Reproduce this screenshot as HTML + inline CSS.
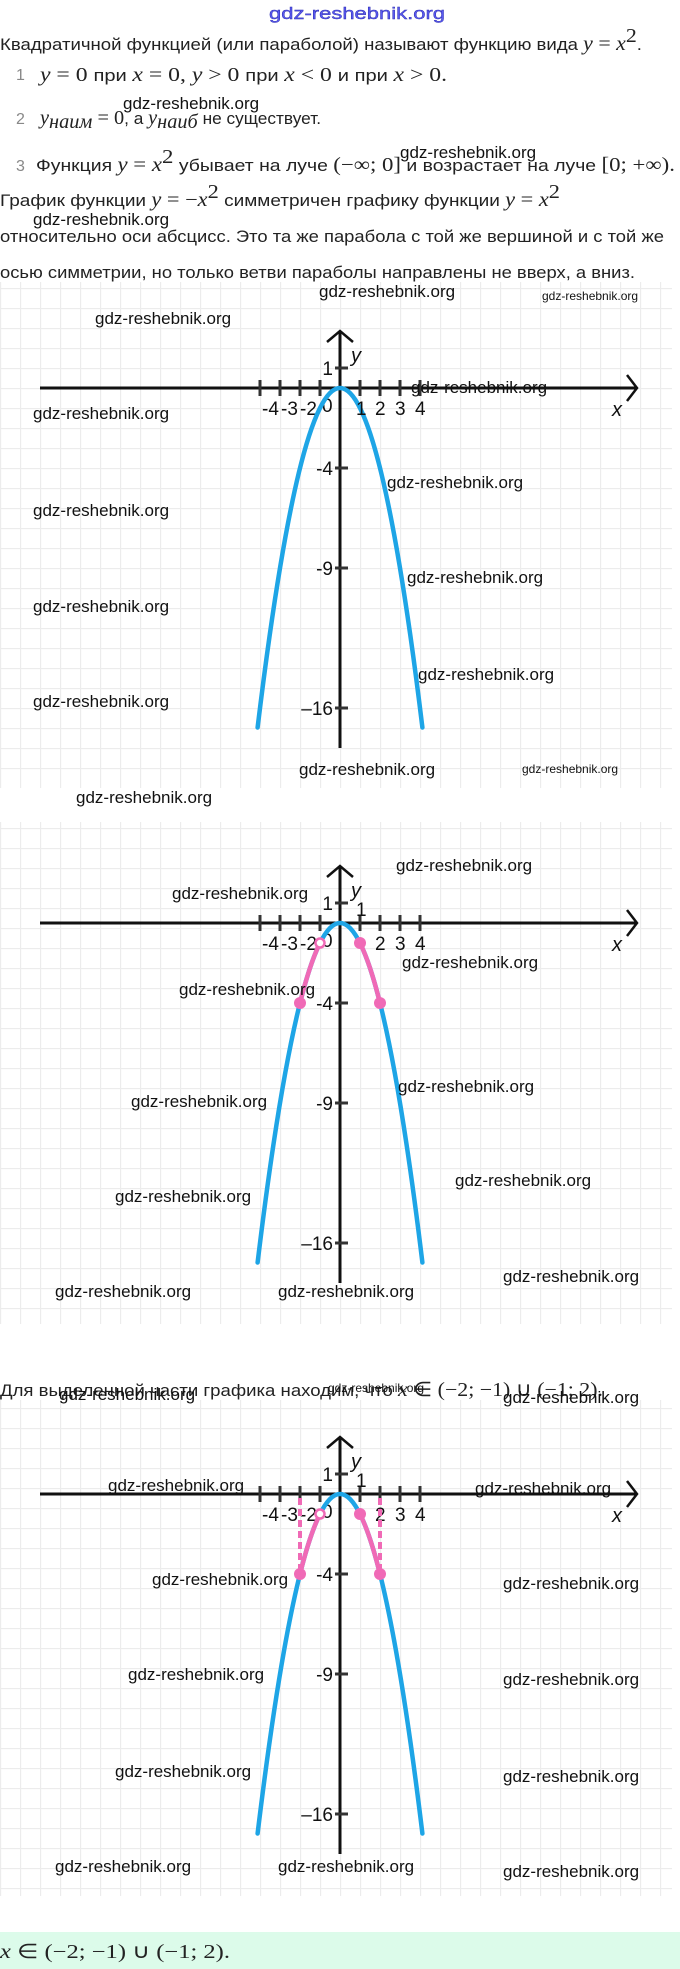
<!DOCTYPE html>
<html><head><meta charset="utf-8"><style>
html,body{margin:0;padding:0;background:#fff}
svg{display:block}
.t{font-family:"Liberation Sans",sans-serif;font-size:17px;fill:#222}
.m{font-family:"Liberation Serif",serif;font-size:20px;fill:#222}
.i{font-style:italic}
.n{font-family:"Liberation Sans",sans-serif;font-size:16px;fill:#888}
.w{font-family:"Liberation Sans",sans-serif;font-size:17px;fill:#111}
.ws{font-family:"Liberation Sans",sans-serif;font-size:12px;fill:#111}
.l{font-family:"Liberation Sans",sans-serif;font-size:19px;fill:#111}
</style></head><body>
<svg width="680" height="1969" viewBox="0 0 680 1969" xmlns="http://www.w3.org/2000/svg">
<defs>
<pattern id="g" width="20" height="20" patternUnits="userSpaceOnUse" x="0" y="8">
<path d="M0 0.5H20M0.5 0V20" stroke="#ececec" stroke-width="1.3" fill="none"/>
</pattern>
<g id="axes">
<line x1="-300" y1="0" x2="297" y2="0" stroke="#111" stroke-width="3"/>
<polyline points="287,-13 297,0 287,13" fill="none" stroke="#111" stroke-width="2.5"/>
<line x1="0" y1="-57" x2="0" y2="360" stroke="#111" stroke-width="3"/>
<polyline points="-13,-46 0,-57 13,-46" fill="none" stroke="#111" stroke-width="2.5"/>
<g stroke="#333" stroke-width="3">
<line x1="-80" y1="-8" x2="-80" y2="8"/><line x1="-60" y1="-8" x2="-60" y2="8"/>
<line x1="-40" y1="-8" x2="-40" y2="8"/><line x1="-20" y1="-8" x2="-20" y2="8"/>
<line x1="20" y1="-8" x2="20" y2="8"/><line x1="40" y1="-8" x2="40" y2="8"/>
<line x1="60" y1="-8" x2="60" y2="8"/><line x1="80" y1="-8" x2="80" y2="8"/>
<line x1="-5" y1="-20" x2="8" y2="-20"/><line x1="-5" y1="80" x2="8" y2="80"/>
<line x1="-5" y1="180" x2="8" y2="180"/><line x1="-5" y1="320" x2="8" y2="320"/>
</g>
<g class="l">
<text x="-7" y="-13" text-anchor="end">1</text>
<text x="11" y="-26" font-style="italic" font-size="20">y</text>
<text x="-78" y="27">-4</text><text x="-59" y="27">-3</text><text x="-40" y="27">-2</text>
<text x="-18" y="24">0</text>
<text x="35" y="27">2</text><text x="55" y="27">3</text><text x="75" y="27">4</text>
<text x="272" y="28" font-style="italic" font-size="20">x</text>
<text x="-7" y="87" text-anchor="end">-4</text>
<text x="-7" y="187" text-anchor="end">-9</text>
<text x="-7" y="327" text-anchor="end">–16</text>
</g>
<path d="M-82.4 339.5 Q0 -339.5 82.4 339.5" fill="none" stroke="#1ea5e6" stroke-width="4.5" stroke-linecap="round"/>
</g>
</defs>

<rect x="0" y="282" width="672" height="506" fill="url(#g)"/>
<rect x="0" y="822" width="672" height="502" fill="url(#g)"/>
<rect x="0" y="1400" width="672" height="496" fill="url(#g)"/>

<text x="269" y="19" font-family="Liberation Sans,sans-serif" font-size="17" fill="#5a5af0" stroke="#2a2ab0" stroke-width="0.4" textLength="176" lengthAdjust="spacingAndGlyphs">gdz-reshebnik.org</text>
<text class="t" x="0" y="50" textLength="642" lengthAdjust="spacingAndGlyphs">Квадратичной функцией (или параболой) называют функцию вида <tspan class="m i">y</tspan><tspan class="m"> = </tspan><tspan class="m i">x</tspan><tspan class="m" font-size="12" dy="-8">2</tspan><tspan dy="8">.</tspan></text>
<text class="n" x="16" y="80">1</text>
<text class="t" x="40" y="81" textLength="407" lengthAdjust="spacingAndGlyphs"><tspan class="m i">y</tspan><tspan class="m"> = 0 </tspan>при <tspan class="m i">x</tspan><tspan class="m"> = 0, </tspan><tspan class="m i">y</tspan><tspan class="m"> &gt; 0 </tspan>при <tspan class="m i">x</tspan><tspan class="m"> &lt; 0 </tspan>и при <tspan class="m i">x</tspan><tspan class="m"> &gt; 0.</tspan></text>
<text class="n" x="16" y="124">2</text>
<text class="t" x="40" y="124" textLength="281" lengthAdjust="spacingAndGlyphs"><tspan class="m i">y</tspan><tspan class="m i" font-size="13" dy="4">наим</tspan><tspan class="m" dy="-4"> = 0</tspan>, а <tspan class="m i">y</tspan><tspan class="m i" font-size="13" dy="4">наиб</tspan><tspan dy="-4"> не существует.</tspan></text>
<text class="n" x="16" y="171">3</text>
<text class="t" x="36" y="171" textLength="639" lengthAdjust="spacingAndGlyphs">Функция <tspan class="m i">y</tspan><tspan class="m"> = </tspan><tspan class="m i">x</tspan><tspan class="m" font-size="12" dy="-8">2</tspan><tspan dy="8"> убывает на луче </tspan><tspan class="m">(−∞;  0]</tspan> и возрастает на луче <tspan class="m">[0;  +∞).</tspan></text>
<text class="t" x="0" y="206" textLength="560" lengthAdjust="spacingAndGlyphs">График функции <tspan class="m i">y</tspan><tspan class="m"> = −</tspan><tspan class="m i">x</tspan><tspan class="m" font-size="12" dy="-8">2</tspan><tspan dy="8"> симметричен графику функции </tspan><tspan class="m i">y</tspan><tspan class="m"> = </tspan><tspan class="m i">x</tspan><tspan class="m" font-size="12" dy="-8">2</tspan></text>
<text class="t" x="0" y="242" textLength="664" lengthAdjust="spacingAndGlyphs">относительно оси абсцисс. Это та же парабола с той же вершиной и с той же</text>
<text class="t" x="0" y="278" textLength="635" lengthAdjust="spacingAndGlyphs">осью симметрии, но только ветви параболы направлены не вверх, а вниз.</text>

<g transform="translate(340,388)">
<use href="#axes"/>
<text class="l" x="16" y="27">1</text>
</g>

<g transform="translate(340,923)">
<use href="#axes"/>
<text class="l" x="16" y="-7">1</text>
<g stroke="#f06ab6" stroke-width="4.5" fill="none" stroke-linecap="round">
<path d="M-40 80 Q-30 40 -20 20"/><path d="M40 80 Q30 40 20 20"/>
</g>
<g fill="#f06ab6"><circle cx="-40" cy="80" r="6"/><circle cx="40" cy="80" r="6"/><circle cx="20" cy="20" r="6"/></g>
<circle cx="-20" cy="20" r="4.5" fill="#fff" stroke="#f06ab6" stroke-width="2.5"/>
</g>

<text class="t" x="0" y="1396" textLength="603" lengthAdjust="spacingAndGlyphs">Для выделенной части графика находим, что <tspan class="m i">x</tspan><tspan class="m"> ∈ (−2; −1) ∪ (−1; 2).</tspan></text>

<g transform="translate(340,1494)">
<use href="#axes"/>
<text class="l" x="16" y="-7">1</text>
<g stroke="#f06ab6" stroke-width="4" stroke-dasharray="7 4">
<line x1="-40" y1="4" x2="-40" y2="78"/><line x1="40" y1="4" x2="40" y2="78"/>
</g>
<g stroke="#f06ab6" stroke-width="4.5" fill="none" stroke-linecap="round">
<path d="M-40 80 Q-30 40 -20 20"/><path d="M40 80 Q30 40 20 20"/>
</g>
<g fill="#f06ab6"><circle cx="-40" cy="80" r="6"/><circle cx="40" cy="80" r="6"/><circle cx="20" cy="20" r="6"/></g>
<circle cx="-20" cy="20" r="4.5" fill="#fff" stroke="#f06ab6" stroke-width="2.5"/>
</g>

<rect x="0" y="1932" width="680" height="37" fill="#dcfbea"/>
<text class="m" x="0" y="1958" textLength="230" lengthAdjust="spacingAndGlyphs"><tspan class="i">x</tspan> ∈ (−2; −1) ∪ (−1; 2).</text>

<g class="w">
<text x="123" y="109">gdz-reshebnik.org</text>
<text x="400" y="158">gdz-reshebnik.org</text>
<text x="33" y="225">gdz-reshebnik.org</text>
<text x="319" y="297">gdz-reshebnik.org</text>
<text x="95" y="324">gdz-reshebnik.org</text>
<text x="411" y="393">gdz-reshebnik.org</text>
<text x="33" y="419">gdz-reshebnik.org</text>
<text x="387" y="488">gdz-reshebnik.org</text>
<text x="33" y="516">gdz-reshebnik.org</text>
<text x="407" y="583">gdz-reshebnik.org</text>
<text x="33" y="612">gdz-reshebnik.org</text>
<text x="418" y="680">gdz-reshebnik.org</text>
<text x="33" y="707">gdz-reshebnik.org</text>
<text x="299" y="775">gdz-reshebnik.org</text>
<text x="76" y="803">gdz-reshebnik.org</text>
<text x="396" y="871">gdz-reshebnik.org</text>
<text x="172" y="899">gdz-reshebnik.org</text>
<text x="402" y="968">gdz-reshebnik.org</text>
<text x="179" y="995">gdz-reshebnik.org</text>
<text x="398" y="1092">gdz-reshebnik.org</text>
<text x="131" y="1107">gdz-reshebnik.org</text>
<text x="455" y="1186">gdz-reshebnik.org</text>
<text x="115" y="1202">gdz-reshebnik.org</text>
<text x="503" y="1282">gdz-reshebnik.org</text>
<text x="55" y="1297">gdz-reshebnik.org</text>
<text x="278" y="1297">gdz-reshebnik.org</text>
<text x="59" y="1400">gdz-reshebnik.org</text>
<text x="503" y="1403">gdz-reshebnik.org</text>
<text x="108" y="1491">gdz-reshebnik.org</text>
<text x="475" y="1494">gdz-reshebnik.org</text>
<text x="152" y="1585">gdz-reshebnik.org</text>
<text x="503" y="1589">gdz-reshebnik.org</text>
<text x="128" y="1680">gdz-reshebnik.org</text>
<text x="503" y="1685">gdz-reshebnik.org</text>
<text x="115" y="1777">gdz-reshebnik.org</text>
<text x="503" y="1782">gdz-reshebnik.org</text>
<text x="55" y="1872">gdz-reshebnik.org</text>
<text x="278" y="1872">gdz-reshebnik.org</text>
<text x="503" y="1877">gdz-reshebnik.org</text>
</g>
<g class="ws">
<text x="542" y="300">gdz-reshebnik.org</text>
<text x="522" y="773">gdz-reshebnik.org</text>
<text x="328" y="1392">gdz-reshebnik.org</text>
</g>
</svg>
</body></html>
